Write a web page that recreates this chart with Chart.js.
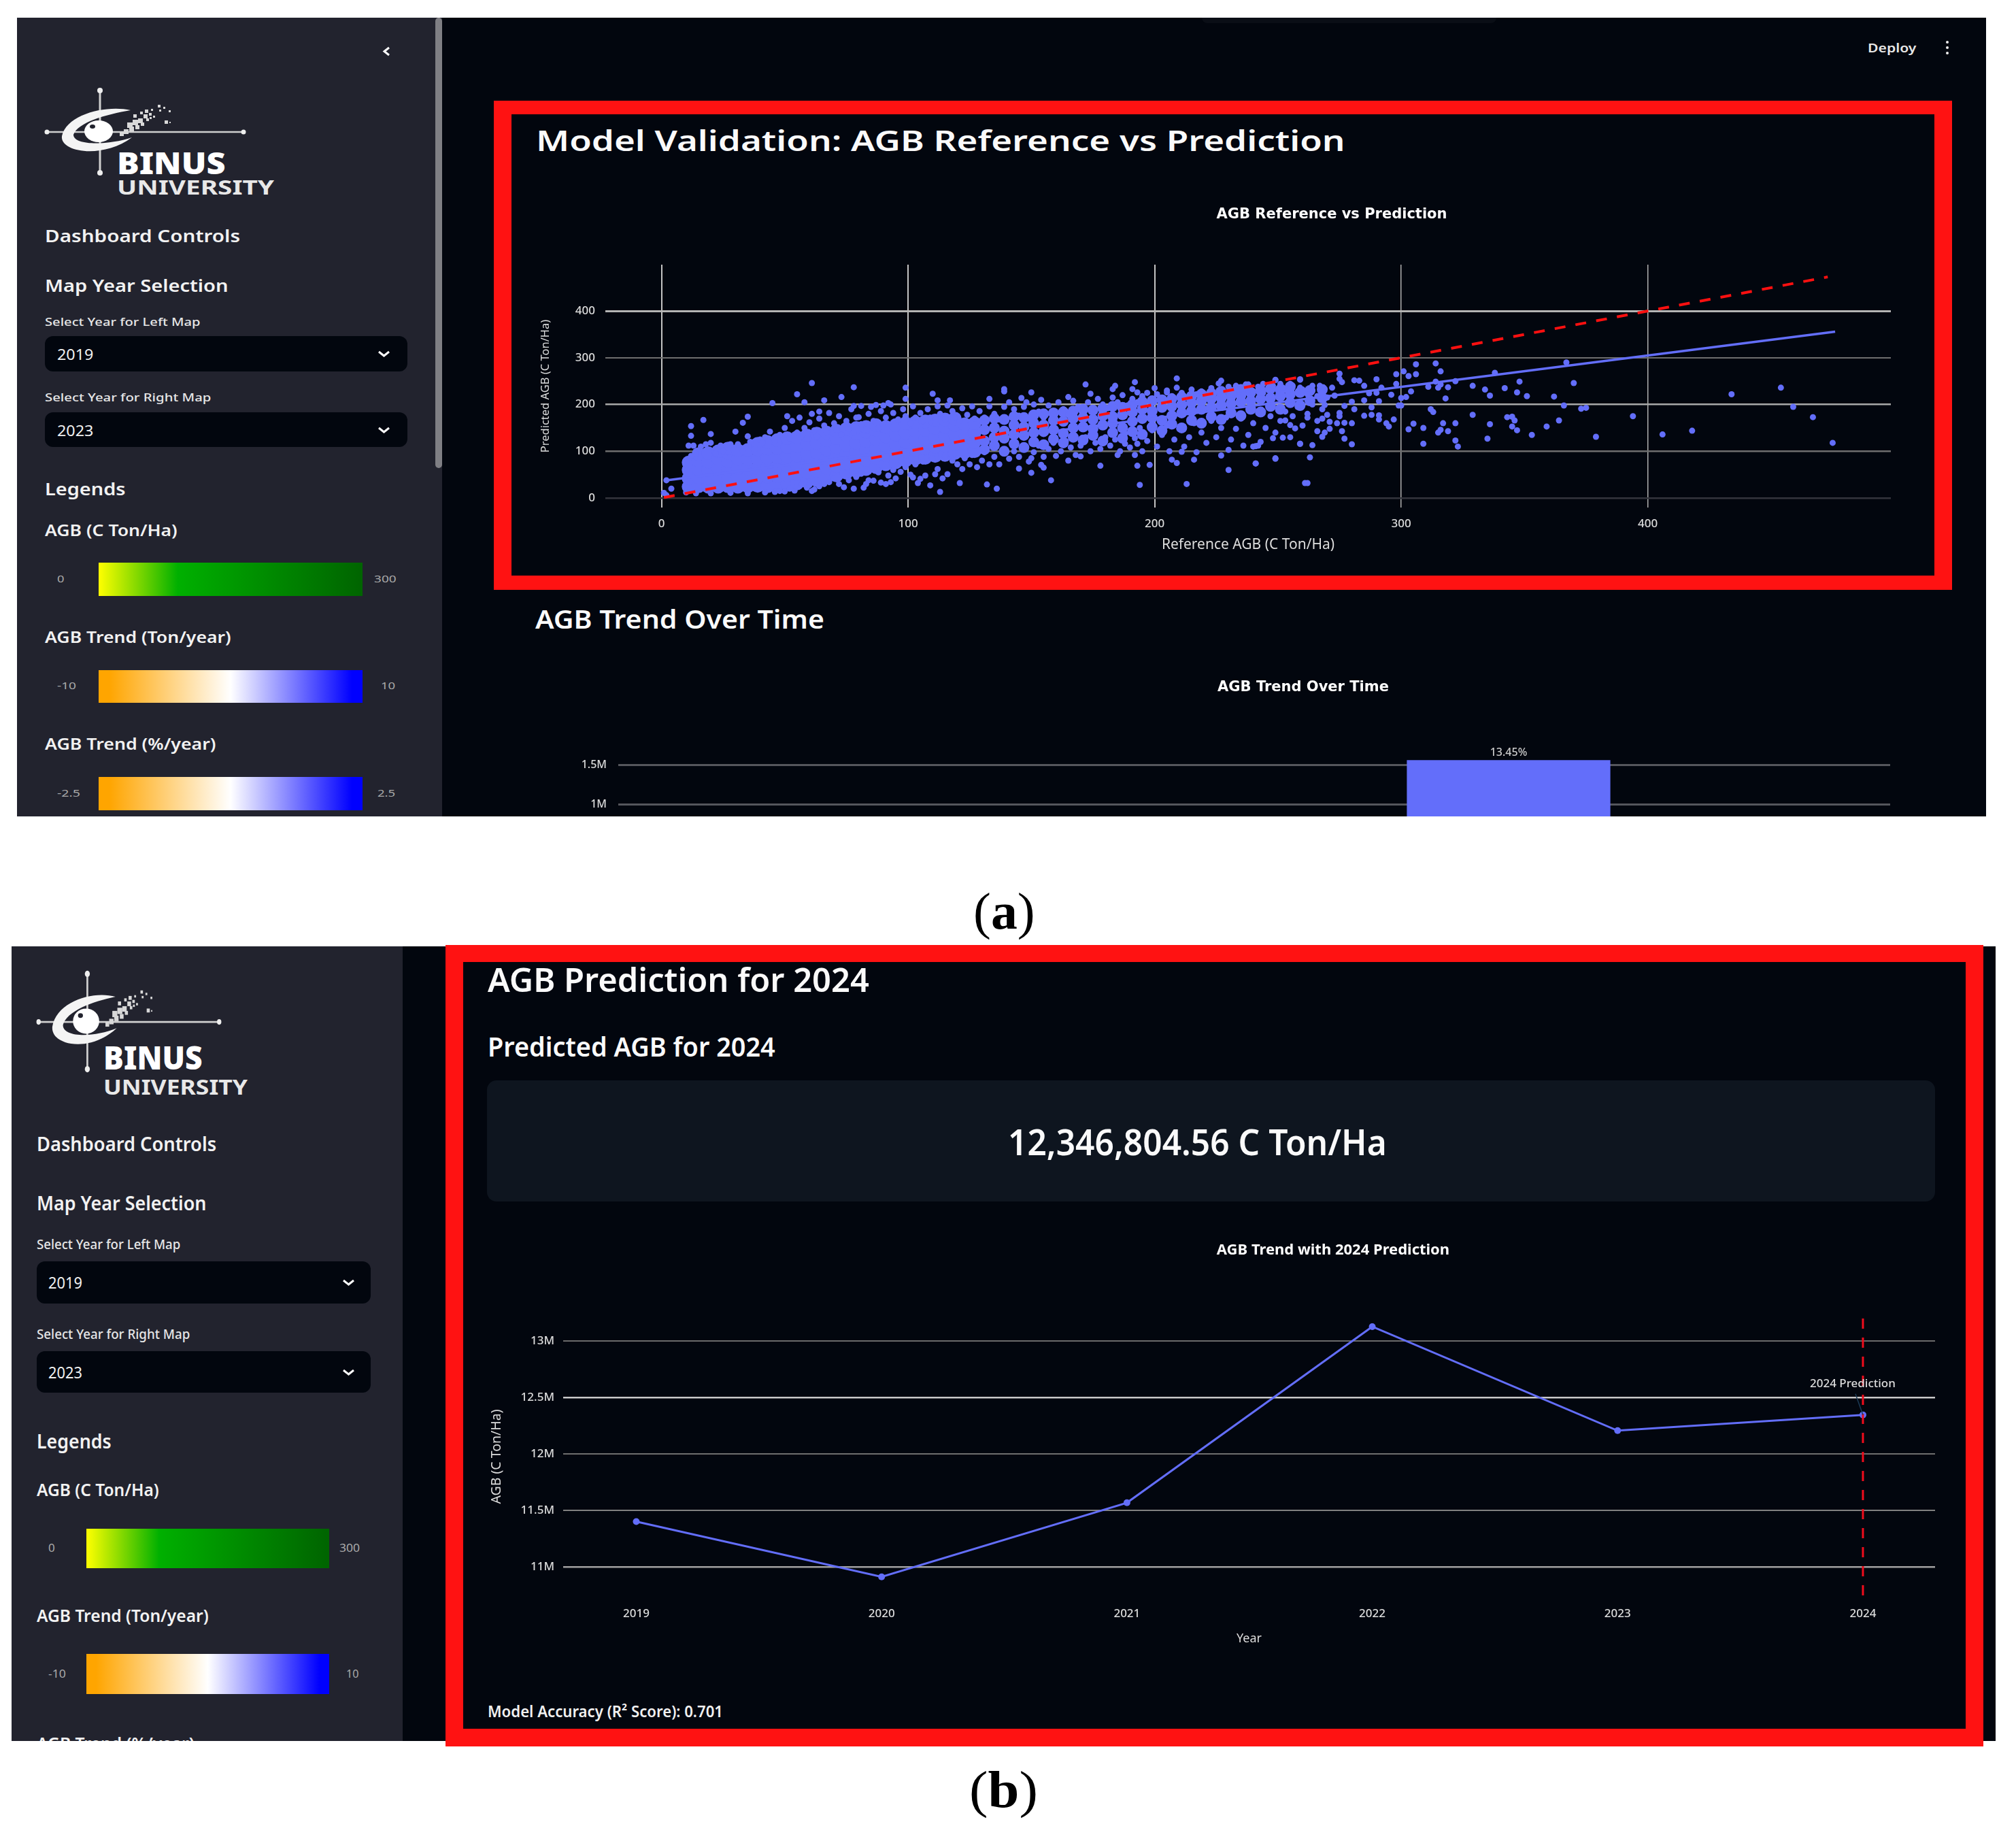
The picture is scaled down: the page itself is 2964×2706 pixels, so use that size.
<!DOCTYPE html>
<html>
<head>
<meta charset="utf-8">
<title>AGB dashboard</title>
<script src="https://cdn.jsdelivr.net/npm/chart.js@4"></script>
<style>
  html, body { margin: 0; padding: 0; background: #fff; }
  body { position: relative; width: 2964px; height: 2706px; overflow: hidden; font-family: "Noto Sans", sans-serif; }
  .layer { position: absolute; left: 0; top: 0; width: 2964px; height: 2706px; }
  .box { position: absolute; box-sizing: border-box; }
  .txt { position: absolute; white-space: nowrap; transform-origin: left center; line-height: 1; }
  canvas { position: absolute; }
  svg { position: absolute; overflow: visible; }
</style>
</head>
<body>
<div id="panelA" class="layer" style="clip-path: inset(26px 44px 1506px 25px)"></div>
<div id="panelB" class="layer" style="clip-path: inset(1391px 30px 147px 17px)"></div>
<div id="top" class="layer"></div>

<script>
// values ----------------------------------------------------------------------

// solid mass of the validation cloud, one row per reference value: [ref, pred, pred, ...]
const cloudCoreRows = [
  [11,24,42,60,76],[15,25,44,62,80,94],[19,24,42,60,78,96],[23,24,44,64,84,100],[27,25,43,61,79,97,106],
  [31,24,44,64,84,102],[35,25,45,63,83,103],[39,26,44,64,84,104,116],[43,25,46,66,86,106,120],[47,27,47,67,87,107,124],
  [51,29,49,69,89,109,128],[55,31,51,71,91,111,130],[59,35,55,75,95,115,134],[63,38,58,78,98,118,138],[67,44,64,84,104,124,140],
  [71,48,68,88,108,128,144],[75,54,74,94,114,134,148],[79,58,78,98,118,138,150],[83,62,82,102,122,142,152],[87,66,86,106,126,146,156],
  [91,72,92,112,132,152],[95,76,96,116,136,156],[99,80,100,120,140,160],[103,84,104,124,144,162],[107,86,106,126,146,164],
  [111,90,110,130,150,166],[115,92,112,132,152,168],[119,96,116,136,156,170],[123,98,118,138,158],[127,100,120,140,160]
];

// the same mass further right, where black gaps start to show through it
const cloudBodyRows = [
  [131,104,122,146,166],[135,112,130,150,170],[139,100,128,143,168],[143,116,136,156,174],[147,108,134,152,172],
  [151,120,140,160,178],[155,114,142,156,180],[159,126,146,166,182],[163,118,138,164,184],[167,130,150,170,186],
  [171,124,152,172,190],[175,134,148,168,188],[179,122,156,176,192],[183,140,160,174,196],[187,128,150,178,194],
  [191,142,164,184,200],[195,136,170,190,206],[199,152,172,186,208],[203,144,166,194,210],[207,158,176,196,212],
  [211,150,182,200,216],[215,166,186,204,218],[219,160,190,208,222],[223,174,194,212,224],[227,168,198,214,228],
  [231,182,202,218,226],[235,176,206,220,232],[239,190,208,226],[243,184,212,230],[247,196,214,234],
  [251,190,218,232],[255,204,222,238],[259,198,226],[263,208,230],[268,214,232]
];

const lowBiomassUpper = [
  [2,38],[4,20],[1,11],[2,6],[11,112],[13,112],[16,110],[18,115],[20,118],[12,90],[14,95],[22,95],[25,100],[28,115],
  [24,112],[27,108],[31,115],[33,100],[36,120],[38,105],[40,125],[41,118],[35,132],[12,154],[17,167],[12,133],[20,137],
  [35,174],[33,161],[30,142],[45,203],[58,205],[66,209],[73,216],[64,185],[51,175],[61,246],[78,237],[99,236],[55,222],
  [110,223],[112,209],[117,209],[99,212],[92,203],[87,199],[78,197],[81,197],[80,173],
  [42,130],[44,142],[46,122],[48,135],[50,150],[52,128],[53,165],[55,140],[56,172],[58,150],[59,128],[60,162],[61,180],
  [62,145],[63,132],[64,170],[66,155],[67,140],[68,182],[70,160],[71,146],[72,175],[73,135],[75,165],[76,148],[77,190],
  [78,140],[79,172],[81,158],[83,147],[84,180],[85,195],[86,165],[88,150],[89,186],[90,198],[91,172],[92,158],[93,200],
  [94,182],[96,168],[98,190],[99,175],[101,160],[102,196],[103,172],[105,182],[106,165],[108,190],[109,172],[111,160],
  [112,196],[113,180],[115,168],[116,198],[118,186],[119,172],[121,165],[122,192],[124,178],[126,196],[127,170],[129,186],
  [131,172],[133,196],[135,180],[137,168],[139,195]
];

const lowBiomassLower = [
  [10,12],[14,10],[20,10],[28,11],[35,10],[42,12],[46,13],[48,15],[50,14],[52,20],[54,16],[55,24],[57,30],[59,22],[60,28],
  [61,15],[62,18],[64,25],[66,30],[68,34],[70,42],[72,30],[74,23],[76,38],[78,20],[79,45],[81,52],[82,22],[83,30],[84,38],
  [86,37],[88,55],[89,33],[91,30],[92,48],[93,34],[94,60],[95,42],[97,56],[99,66],[101,50],[102,44],[103,72],[104,32],
  [105,41],[106,78],[107,48],[109,27],[110,85],[111,51],[112,62],[113,13],[114,42],[115,90],[116,51],[118,80],[119,96],
  [120,72],[121,32],[122,62],[123,85],[125,72],[126,92],[128,66],[130,80],[131,98],[132,29],[133,72],[135,88],[136,20],
  [137,72],[139,100],[141,84]
];

const midBiomassUpper = [
  [133,212],[139,233],[139,228],[150,226],[146,214],[154,210],[148,205],[172,243],[165,216],[174,223],[184,240],[183,233],
  [192,248],[191,233],[193,226],[200,235],[209,256],[205,226],[226,245],[227,251],[233,240],[238,243],[249,253],[259,253],
  [141,205],[143,190],[145,176],[147,195],[149,170],[151,200],[153,185],[155,172],[157,198],[159,180],[161,205],[163,190],
  [165,178],[167,208],[169,195],[171,182],[173,205],[175,190],[177,212],[179,200],[181,192],[183,215],[185,205],[187,220],
  [189,198],[191,212],[193,205],[195,218],[197,225],[199,208],[201,222],[203,212],[205,230],[207,218],[209,236],[211,225],
  [213,215],[215,232],[217,222],[219,228],[221,215],[223,235],[224,222],[226,230],[228,218],[230,238],[232,225],[234,232],
  [236,222],[238,235],[240,228],[242,238],[244,225],[246,232],[248,240],[250,230],[252,236],[254,228],[256,240],[258,226],
  [260,232],[262,222],[264,230],[266,218],[268,228],[270,215]
];

const midBiomassLower = [
  [158,38],[150,54],[145,63],[155,65],[154,71],[194,28],[213,30],[193,69],[198,71],[178,69],[230,60],[241,74],[249,84],
  [259,116],[261,32],[241,111],[230,103],[227,91],[216,82],[209,75],[207,82],[211,99],[188,116],[193,116],[185,92],[192,92],
  [165,80],[170,89],[150,85],
  [143,100],[145,88],[147,108],[149,78],[151,98],[153,112],[155,88],[157,105],[159,118],[160,90],[162,100],[164,122],
  [166,108],[168,92],[170,112],[172,130],[174,100],[176,118],[178,105],[180,130],[182,112],[184,125],[186,100],[188,138],
  [190,108],[192,128],[194,150],[195,100],[197,122],[199,145],[201,110],[203,135],[205,155],[206,100],[208,125],[210,148],
  [212,110],[214,130],[216,160],[217,98],[219,140],[221,118],[223,165],[225,130],[227,150],[229,172],[231,125],[233,148],
  [235,170],[236,112],[238,135],[240,160],[242,182],[243,120],[245,150],[247,175],[249,140],[251,165],[253,185],[255,130],
  [256,175],[258,195],[260,155],[262,180],[264,200],[266,165],[268,190],[270,178]
];

const highBiomass = [
  [367,290],[338,268],[314,288],[306,286],[316,271],[301,271],[298,265],[306,265],[303,261],[275,266],[290,254],[348,249],
  [370,246],[329,240],[334,232],[342,235],[347,226],[336,219],[351,218],[362,217],[318,213],[434,222],[454,236],[459,195],
  [467,173],[475,118],[366,198],[373,191],[375,193],[394,175],[418,144],[406,136],[379,131],[364,166],[359,153],[353,135],
  [343,173],[345,174],[346,166],[345,153],[347,145],[336,158],[335,127],[329,178],[322,160],[317,160],[312,190],[313,184],
  [305,159],[303,147],[309,150],[309,116],[316,146],[315,140],[319,143],[322,123],[323,110],[299,198],[300,198],[297,168],
  [295,153],[294,160],[291,177],[291,168],[288,178],[285,176],[280,115],[277,127],[276,143],[268,131],[269,140],[266,143],
  [264,113],[259,116],[263,87],[262,32],[249,85],[241,74],[240,110],[242,112],[252,129],[248,128],[257,149],[255,156],
  [280,160],[277,161],[274,160],[271,163],[271,148],[268,170],[262,172],[253,166],[311,238],[314,249],[315,236],[319,237],
  [322,250],[316,243],[304,228],[302,216],[300,214],[296,221],[298,244],[292,236],[290,225],[287,224],[285,240],[281,252],
  [283,251],[275,255],[276,248],[272,236],[267,240],[264,240],[273,219],[280,206],[285,209],[277,197],[275,182],[275,175],
  [281,190],[269,199],[288,194],[291,207],[259,254],[249,252],[237,243],[233,238],[255,244],[244,244],[251,244],[259,236]
];

const trendLineRef = [1, 476];
const trendLinePred = [37, 356];
const identityLineRef = [1, 473];
const identityLinePred = [1, 473];
const refTicks = [0, 100, 200, 300, 400];
const predTicks = [0, 100, 200, 300, 400];

const years = [2019, 2020, 2021, 2022, 2023, 2024];
const agbTotals = [11400000, 10910000, 11567000, 13130000, 12207000, 12346804.56];
const agbTicks = [11000000, 11500000, 12000000, 12500000, 13000000];
const predictionYear = 2024;

const changeYears = ['2019', '2020', '2021', '2022', '2023'];
const changeValues = [0, -490000, 657000, 1563000, -923000];
const changeLabels = ['', '-4.30%', '6.02%', '13.45%', '-7.03%'];

// colours ---------------------------------------------------------------------
const MARK = '#636efa';
const RED = '#ff1212';
const CHART_BG = '#02060e';
const SIDE_BG = '#22232e';
const GRADIENTS = {
  agb: 'linear-gradient(90deg,#ffff00 0%,#00b000 30%,#006400 100%)',
  trend: 'linear-gradient(90deg,#ffa500 0%,#ffa500 4%,#fff 50%,#0000ff 96%,#0000ff 100%)',
};

// page furniture --------------------------------------------------------------
function box(parent, x0, y0, x1, y1, css) {
  const d = document.createElement('div');
  d.className = 'box';
  d.style.cssText = `left:${x0}px;top:${y0}px;width:${x1 - x0}px;height:${y1 - y0}px;${css}`;
  parent.appendChild(d);
  return d;
}

// text is squeezed or stretched to the width it has in the screenshot
function text(parent, str, x0, x1, yc, size, weight, color, family) {
  const d = document.createElement('div');
  d.className = 'txt';
  d.innerHTML = str;
  d.style.cssText = `left:${x0}px;top:${yc}px;font-size:${size}px;font-weight:${weight};color:${color};`;
  if (family) d.style.fontFamily = family;
  parent.appendChild(d);
  const k = x1 ? (x1 - x0) / d.offsetWidth : 1;
  d.style.transform = `translateY(-50%) scaleX(${k})`;
  return d;
}

function chevron(parent, cx, cy, w, h) {
  parent.insertAdjacentHTML('beforeend',
    `<svg style="left:${cx - w / 2}px;top:${cy - h / 2}px" width="${w}" height="${h}"><polyline points="1,1 ${w / 2},${h - 1} ${w - 1},1" fill="none" stroke="#fff" stroke-width="3"/></svg>`);
}

function logo(parent, x, y, w, h) {
  const pixels = [[121,50,8],[129,46,8],[124,56,7],[133,54,6],[137,44,7],[116,60,7],[130,38,5],[141,50,5],[145,38,6],[149,44,4],
    [147,31,5],[140,34,4],[153,36,4],[156,30,3],[159,40,3],[154,42,3],[110,64,6],[166,24,4],[168,31,3],[174,27,3],[182,32,3],[176,47,5],[183,49,2]];
  const rects = pixels.map(p => `<rect x="${p[0]}" y="${p[1]}" width="${p[2]}" height="${p[2]}" fill="#d8d8d8"/>`).join('');
  parent.insertAdjacentHTML('beforeend', `<svg style="left:${x}px;top:${y}px" width="${w}" height="${h}" viewBox="0 0 295 127" preserveAspectRatio="none">
    <line x1="0" y1="64" x2="295" y2="64" stroke="#cfcfcf" stroke-width="2.5"/>
    <line x1="81" y1="0" x2="81" y2="127" stroke="#cfcfcf" stroke-width="3"/>
    <circle cx="3" cy="64" r="3.5" fill="#eee"/><circle cx="292" cy="64" r="3.5" fill="#eee"/>
    <circle cx="81" cy="3" r="4" fill="#eee"/><circle cx="81" cy="124" r="4" fill="#eee"/>
    <path d="M126 32 C90 24 32 38 25 70 C22 94 85 104 128 72 C92 84 42 84 42 68 C48 50 90 38 126 32 Z" fill="#f4f4f4"/>
    <ellipse cx="79" cy="63" rx="21" ry="16" fill="#fff"/><ellipse cx="70" cy="56" rx="4" ry="3" fill="#22232e"/>
    ${rects}</svg>`);
}

function sidebar(p, s) {
  box(p, s.left, s.top, s.right, s.bottom, `background:${SIDE_BG}`);
  logo(p, s.logo[0], s.logo[1], s.logo[2], s.logo[3]);
  s.labels.forEach(t => text(p, t[0], t[1], t[2], t[3], t[4], t[5], t[6]));
  s.selects.forEach(b => {
    box(p, b[0], b[1], b[2], b[3], `background:${CHART_BG};border-radius:12px`);
    text(p, b[4], b[5], b[6], (b[1] + b[3]) / 2, s.selectSize, 400, '#f0f0f0');
    chevron(p, b[7], (b[1] + b[3]) / 2, 17, 8);
  });
  s.bars.forEach(b => box(p, b[0], b[1], b[2], b[3], `background:${GRADIENTS[b[4]]}`));
}

const panelA = document.getElementById('panelA');
const panelB = document.getElementById('panelB');
const topLayer = document.getElementById('top');

box(panelA, 25, 26, 2920, 1200, `background:${CHART_BG}`);
box(panelB, 17, 1391, 2934, 2559, `background:${CHART_BG}`);

sidebar(panelA, {
  left: 25, top: 26, right: 650, bottom: 1200,
  logo: [66, 130, 295, 127],
  selectSize: 22,
  labels: [
    ['BINUS', 172, 331, 239, 44, 900, '#fff'],
    ['UNIVERSITY', 172, 403, 275, 28, 700, '#e8e8e8'],
    ['Dashboard Controls', 66, 353, 346, 25, 600, '#f2f2f2'],
    ['Map Year Selection', 66, 336, 419, 25, 600, '#f2f2f2'],
    ['Select Year for Left Map', 66, 295, 472, 17, 500, '#e6e6e6'],
    ['Select Year for Right Map', 66, 310, 583, 17, 500, '#e6e6e6'],
    ['Legends', 66, 184, 718, 25, 600, '#f2f2f2'],
    ['AGB (C Ton/Ha)', 66, 261, 779, 23, 600, '#f2f2f2'],
    ['0', 84, 95, 850, 15, 400, '#aaa'],
    ['300', 550, 583, 850, 15, 400, '#aaa'],
    ['AGB Trend (Ton/year)', 66, 340, 936, 23, 600, '#f2f2f2'],
    ['-10', 84, 112, 1007, 15, 400, '#aaa'],
    ['10', 560, 581, 1007, 15, 400, '#aaa'],
    ['AGB Trend (%/year)', 66, 318, 1093, 23, 600, '#f2f2f2'],
    ['-2.5', 84, 118, 1165, 15, 400, '#aaa'],
    ['2.5', 555, 581, 1165, 15, 400, '#aaa'],
  ],
  selects: [
    [66, 494, 599, 546, '2019', 84, 137, 564],
    [66, 606, 599, 657, '2023', 84, 137, 564],
  ],
  bars: [[145, 827, 533, 876, 'agb'], [145, 985, 533, 1033, 'trend'], [145, 1142, 533, 1191, 'trend']],
});
box(panelA, 640, 26, 650, 688, 'background:#7f7f84;border-radius:5px');
chevron(panelA, 568, 75, 8, 13);
panelA.lastElementChild.innerHTML = '<polyline points="8,1 1,6.5 8,12" fill="none" stroke="#fff" stroke-width="3"/>';
box(panelA, 1767, 26, 2200, 34, 'background:#0a0e16;border-radius:0 0 12px 12px');
text(panelA, 'Deploy', 2746, 2817, 70, 17, 600, '#e6e6e6');
[62, 70, 78].forEach(y => box(panelA, 2861, y - 2, 2865, y + 2, 'background:#eee;border-radius:50%'));

text(panelA, 'Model Validation: AGB Reference vs Prediction', 788, 1977, 206, 42, 600, '#fafafa');
text(panelA, 'AGB Trend Over Time', 787, 1212, 909, 37, 600, '#fafafa');

sidebar(panelB, {
  left: 17, top: 1391, right: 592, bottom: 2559,
  logo: [54, 1428, 271, 147],
  selectSize: 24,
  labels: [
    ['BINUS', 152, 298, 1554, 48, 900, '#fff'],
    ['UNIVERSITY', 152, 364, 1597, 31, 700, '#e8e8e8'],
    ['Dashboard Controls', 54, 318, 1681, 28, 600, '#f2f2f2'],
    ['Map Year Selection', 54, 303, 1768, 28, 600, '#f2f2f2'],
    ['Select Year for Left Map', 54, 265, 1829, 19, 500, '#e6e6e6'],
    ['Select Year for Right Map', 54, 279, 1961, 19, 500, '#e6e6e6'],
    ['Legends', 54, 164, 2118, 28, 600, '#f2f2f2'],
    ['AGB (C Ton/Ha)', 54, 234, 2189, 26, 600, '#f2f2f2'],
    ['0', 71, 81, 2274, 17, 400, '#aaa'],
    ['300', 499, 529, 2274, 17, 400, '#aaa'],
    ['AGB Trend (Ton/year)', 54, 307, 2374, 26, 600, '#f2f2f2'],
    ['-10', 71, 97, 2459, 17, 400, '#aaa'],
    ['10', 509, 527, 2459, 17, 400, '#aaa'],
    ['AGB Trend (%/year)', 54, 286, 2562, 26, 600, '#f2f2f2'],
  ],
  selects: [
    [54, 1854, 545, 1916, '2019', 71, 121, 512],
    [54, 1986, 545, 2047, '2023', 71, 121, 512],
  ],
  bars: [[127, 2247, 484, 2305, 'agb'], [127, 2431, 484, 2490, 'trend']],
});

text(panelB, 'AGB Prediction for 2024', 717, 1278, 1440, 48, 600, '#fafafa');
text(panelB, 'Predicted AGB for 2024', 717, 1140, 1538, 40, 600, '#fafafa');
box(panelB, 716, 1588, 2845, 1766, 'background:#0e151f;border-radius:14px');
text(panelB, '12,346,804.56 C Ton/Ha', 1482, 2039, 1678, 52, 600, '#fafafa');
text(panelB, 'Model Accuracy (R² Score): 0.701', 717, 1063, 2515, 23, 600, '#f0f0f0');

// red highlight frames and the (a) / (b) captions
box(topLayer, 726, 148, 2870, 867, `border:solid ${RED};border-width:20px 26px 21px 26px`);
box(topLayer, 655, 1389, 2916, 2567, `border:solid ${RED};border-width:25px 26px 26px 26px`);
text(topLayer, '(<b>a</b>)', 1431, 1522, 1339, 76, 400, '#000', '"Liberation Serif", serif');
text(topLayer, '(<b>b</b>)', 1425, 1526, 2630, 76, 400, '#000', '"Liberation Serif", serif');

// charts ----------------------------------------------------------------------
Chart.defaults.font.family = '"Noto Sans", sans-serif';
Chart.defaults.animation = false;
Chart.defaults.responsive = false;
Chart.defaults.plugins.legend.display = false;
Chart.defaults.plugins.tooltip.enabled = false;

function addCanvas(parent, x0, y0, x1, y1) {
  const c = document.createElement('canvas');
  c.width = x1 - x0;
  c.height = y1 - y0;
  c.style.cssText = `left:${x0}px;top:${y0}px;width:${x1 - x0}px;height:${y1 - y0}px`;
  parent.appendChild(c);
  return c;
}

const toPoints = list => list.map(p => ({ x: p[0], y: p[1] }));
const toLine = (xs, ys) => xs.map((x, i) => ({ x, y: ys[i] }));
const rowsToPoints = rows => rows.flatMap(r => r.slice(1).map(y => ({ x: r[0], y })));

// the screenshots centre the chart title off the plot area, so slide the title block
const titleShift = dx => ({
  id: 'titleShift',
  afterLayout(chart) {
    chart.titleBlock.left += dx;
    chart.titleBlock.right += dx;
  },
});

// Plotly-like grid: every line came out of the screenshot resize a bit different
const gridStyle = (colors, widths) => ({
  color: c => colors[c.index] || '#666',
  lineWidth: c => widths[c.index] || 2,
  drawTicks: false,
});

const tickFont = { size: 17, weight: '500' };

new Chart(addCanvas(panelA, 770, 303, 2800, 814), {
  type: 'scatter',
  data: {
    datasets: [
      { data: toLine(identityLineRef, identityLinePred), showLine: true, borderColor: '#ff1010', borderWidth: 4, borderDash: [16, 15], pointRadius: 0 },
      { data: toLine(trendLineRef, trendLinePred), showLine: true, borderColor: MARK, borderWidth: 3.5, pointRadius: 0 },
      { data: toPoints(lowBiomassUpper), backgroundColor: MARK, pointRadius: 4.5, pointBorderWidth: 0 },
      { data: toPoints(lowBiomassLower), backgroundColor: MARK, pointRadius: 4.5, pointBorderWidth: 0 },
      { data: toPoints(midBiomassUpper), backgroundColor: MARK, pointRadius: 4.5, pointBorderWidth: 0 },
      { data: toPoints(midBiomassLower), backgroundColor: MARK, pointRadius: 4.5, pointBorderWidth: 0 },
      { data: toPoints(highBiomass), backgroundColor: MARK, pointRadius: 4.5, pointBorderWidth: 0 },
      { data: rowsToPoints(cloudBodyRows), backgroundColor: MARK, pointRadius: 8, pointBorderWidth: 0 },
      { data: rowsToPoints(cloudCoreRows), backgroundColor: MARK, pointRadius: 10, pointBorderWidth: 0 },
    ],
  },
  plugins: [titleShift(183)],
  options: {
    layout: { padding: { right: 20 } },
    plugins: {
      title: {
        display: true,
        text: 'AGB Reference vs Prediction',
        color: '#fff',
        font: { family: '"DejaVu Sans"', size: 21, weight: 'bold' },
        padding: { top: 0, bottom: 60.8 },
      },
    },
    scales: {
      x: {
        type: 'linear', min: -22.76, max: 498.6,
        afterFit: s => { s.height = 68; },
        afterBuildTicks: s => { s.ticks = refTicks.map(value => ({ value })); },
        grid: gridStyle(['#c4c4c4', '#c4c4c4', '#c4c4c4', '#b0b0b0', '#b0b0b0'], [2, 2, 2, 1.5, 1.5]),
        border: { display: false },
        ticks: { color: '#ddd', padding: 14, font: tickFont, maxRotation: 0, callback: v => String(v) },
        title: { display: true, text: 'Reference AGB (C Ton/Ha)', color: '#ddd', font: { size: 21 }, padding: 0 },
      },
      y: {
        type: 'linear', min: -20.4, max: 499.3,
        afterFit: s => { s.width = 120; },
        afterBuildTicks: s => { s.ticks = predTicks.map(value => ({ value })); },
        grid: gridStyle(['#33343c', '#6e6e6e', '#a8a8a8', '#6e6e6e', '#b4b4b4'], [2.5, 2.5, 2.5, 2, 3]),
        border: { display: false },
        ticks: { color: '#ddd', padding: 15, font: tickFont, callback: v => String(v) },
        title: { display: true, text: 'Predicted AGB (C Ton/Ha)', color: '#ddd', font: { size: 16.5 }, padding: { top: 22.7, bottom: 0 } },
      },
    },
  },
});

const barLabels = {
  id: 'barLabels',
  afterDatasetsDraw(chart) {
    const { ctx } = chart;
    ctx.save();
    ctx.font = '500 16px "Noto Sans"';
    ctx.fillStyle = '#ccc';
    ctx.textAlign = 'center';
    chart.getDatasetMeta(0).data.forEach((bar, i) => {
      if (changeValues[i] > 0) ctx.fillText(changeLabels[i], bar.x, bar.y - 6);
    });
    ctx.restore();
  },
};

new Chart(addCanvas(panelA, 790, 998, 2800, 1500), {
  type: 'bar',
  data: {
    labels: changeYears,
    datasets: [{ data: changeValues, backgroundColor: MARK, barPercentage: 0.8, categoryPercentage: 1 }],
  },
  plugins: [barLabels, titleShift(131.5)],
  options: {
    layout: { padding: { right: 21 } },
    plugins: {
      title: {
        display: true,
        text: 'AGB Trend Over Time',
        color: '#fff',
        font: { family: '"DejaVu Sans"', size: 21, weight: 'bold' },
        padding: { top: 0, bottom: 66.8 },
      },
    },
    scales: {
      x: {
        afterFit: s => { s.height = 24; },
        grid: { display: false },
        border: { display: false },
        ticks: { display: false },
      },
      y: {
        type: 'linear', min: -1528000, max: 1800000,
        afterFit: s => { s.width = 119; },
        afterBuildTicks: s => { s.ticks = [-1000000, -500000, 0, 500000, 1000000, 1500000].map(value => ({ value })); },
        grid: { color: '#55565c', lineWidth: 3, drawTicks: false },
        border: { display: false },
        ticks: { color: '#ddd', padding: 17, font: { size: 16, weight: '500' }, callback: v => v === 0 ? '0' : (v / 1e6) + 'M' },
        title: { display: true, text: 'AGB Change (C Ton)', color: '#ddd', font: { size: 16 }, padding: { top: 4, bottom: 0 } },
      },
    },
  },
});

const predictionNote = {
  id: 'predictionNote',
  afterDatasetsDraw(chart) {
    const { ctx, scales } = chart;
    const px = scales.x.getPixelForValue(predictionYear);
    const py = scales.y.getPixelForValue(agbTotals[5]);
    ctx.save();
    ctx.strokeStyle = '#1b3a55';
    ctx.lineWidth = 1.5;
    ctx.beginPath();
    ctx.moveTo(px - 11, py - 31);
    ctx.lineTo(px, py);
    ctx.stroke();
    ctx.font = '500 17px "Noto Sans"';
    ctx.fillStyle = '#ddd';
    ctx.textAlign = 'center';
    ctx.textBaseline = 'middle';
    ctx.fillText('2024 Prediction', px - 15, py - 46);
    ctx.restore();
  },
};

const agbYMin = 10745000;
const agbYMax = 13208000;

new Chart(addCanvas(panelB, 700, 1825, 2860, 2420), {
  type: 'scatter',
  data: {
    datasets: [
      { data: toLine([predictionYear, predictionYear], [agbYMin, agbYMax]), showLine: true, borderColor: '#f00d1c', borderWidth: 3, borderDash: [15, 13], pointRadius: 0 },
      { data: toLine(years, agbTotals), showLine: true, borderColor: MARK, borderWidth: 3, backgroundColor: MARK, pointRadius: 5, pointBorderWidth: 0 },
    ],
  },
  plugins: [predictionNote, titleShift(187.5)],
  options: {
    layout: { padding: { right: 15 } },
    plugins: {
      title: {
        display: true,
        text: 'AGB Trend with 2024 Prediction',
        color: '#fff',
        font: { size: 22, weight: 'bold' },
        padding: { top: 0, bottom: 85.6 },
      },
    },
    scales: {
      x: {
        type: 'linear', min: 2018.702, max: 2024.294,
        afterFit: s => { s.height = 75; },
        afterBuildTicks: s => { s.ticks = years.map(value => ({ value })); },
        grid: { display: false },
        border: { display: false },
        ticks: { color: '#ddd', padding: 9, font: tickFont, maxRotation: 0, callback: v => String(v) },
        title: { display: true, text: 'Year', color: '#ddd', font: { size: 18 }, padding: 0 },
      },
      y: {
        type: 'linear', min: agbYMin, max: agbYMax,
        afterFit: s => { s.width = 128; },
        afterBuildTicks: s => { s.ticks = agbTicks.map(value => ({ value })); },
        grid: gridStyle(['#a0a0a0', '#808080', '#6e6e6e', '#c8c8c8', '#6a6a6a'], [2.5, 2, 2, 2.5, 2]),
        border: { display: false },
        ticks: { color: '#ddd', padding: 13, font: tickFont, callback: v => (v / 1e6) + 'M' },
        title: { display: true, text: 'AGB (C Ton/Ha)', color: '#ddd', font: { size: 19.5 }, padding: { top: 19, bottom: 0 } },
      },
    },
  },
});
</script>
</body>
</html>
